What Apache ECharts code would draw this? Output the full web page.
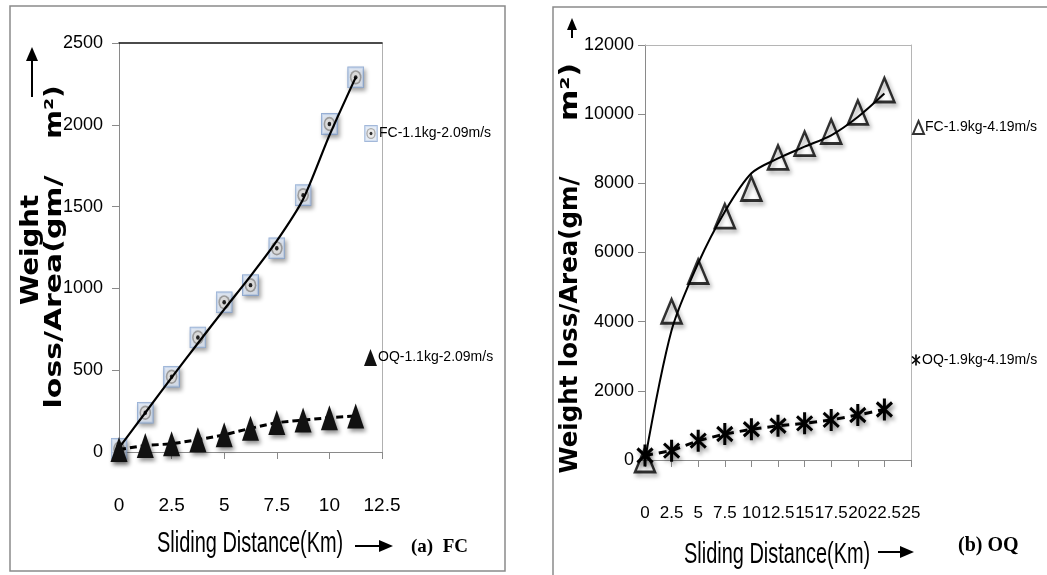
<!DOCTYPE html>
<html>
<head>
<meta charset="utf-8">
<script src="https://cdn.jsdelivr.net/npm/echarts@6/dist/echarts.min.js"></script>
<style>
	html, body { margin: 0; padding: 0; background: #fff; }
	#chart { width: 1047px; height: 575px; }
</style>
</head>
<body>
<div id="chart"></div>
<script>
// (a) FC panel
var leftXTicks = [0, 2.5, 5, 7.5, 10, 12.5];
var leftYTicks = [0, 500, 1000, 1500, 2000, 2500];
var leftX = [0, 1.25, 2.5, 3.75, 5, 6.25, 7.5, 8.75, 10, 11.25];
var leftFC = [20, 240, 460, 700, 915, 1020, 1245, 1570, 2005, 2290];
var leftFCTrend = [25, 240, 455, 665, 872, 1075, 1290, 1545, 1935, 2290];
var leftOQ = [15, 40, 50, 75, 105, 145, 180, 195, 210, 220];

// (b) OQ panel
var rightXTicks = [0, 2.5, 5, 7.5, 10, 12.5, 15, 17.5, 20, 22.5, 25];
var rightYTicks = [0, 2000, 4000, 6000, 8000, 10000, 12000];
var rightX = [0, 2.5, 5, 7.5, 10, 12.5, 15, 17.5, 20, 22.5];
var rightFC = [0, 4300, 5450, 7050, 7850, 8750, 9150, 9500, 10050, 10700];
var rightFCTrend = [0, 3750, 5690, 7180, 8290, 8720, 9060, 9390, 9920, 10600];
var rightOQ = [130, 270, 560, 750, 890, 990, 1060, 1160, 1300, 1460];

var LABEL_FONT = "'Liberation Sans', sans-serif";
var GREY = '#8a8a8a';

function pairs(xs, ys) {
	return xs.map(function (x, i) {
		return [x, ys[i]];
	});
}

function svgIcon(svg) {
	return 'image://data:image/svg+xml;charset=utf-8,' + encodeURIComponent(svg);
}

// square marker with grey ring and black dot
var targetIcon = svgIcon(
	"<svg xmlns='http://www.w3.org/2000/svg' width='16' height='20' viewBox='0 0 16 20' preserveAspectRatio='none'>" +
	"<rect x='0.5' y='0.5' width='15' height='19' fill='#bccfea' stroke='#7f9dcb'/>" +
	"<rect x='2' y='2' width='12' height='16' fill='#dfe8f5'/>" +
	"<ellipse cx='8' cy='10' rx='5.5' ry='6.5' fill='#959595'/>" +
	"<ellipse cx='8' cy='10' rx='4' ry='5' fill='#e6e6e6'/>" +
	"<ellipse cx='8' cy='10' rx='1.7' ry='2' fill='#000'/></svg>"
);
// asterisk marker
var starIcon = svgIcon(
	"<svg xmlns='http://www.w3.org/2000/svg' width='20' height='24' viewBox='0 0 20 24' preserveAspectRatio='none'>" +
	"<g stroke='#000' stroke-width='3.2'><line x1='10' y1='1' x2='10' y2='23'/>" +
	"<line x1='2' y1='5' x2='18' y2='19'/><line x1='2' y1='19' x2='18' y2='5'/></g></svg>"
);

var shadow = {
	shadowBlur: 4,
	shadowColor: 'rgba(0,0,0,0.45)',
	shadowOffsetX: 2,
	shadowOffsetY: 3
};

function plain(v) {
	return String(v);
}

function valueAxis(grid, ticks, fontSize, margin) {
	return {
		type: 'value',
		gridIndex: grid,
		min: ticks[0],
		max: ticks[ticks.length - 1],
		interval: ticks[1] - ticks[0],
		splitLine: { show: false },
		axisLine: { show: true, lineStyle: { color: GREY, width: 1 } },
		axisTick: { show: true, length: 7, lineStyle: { color: GREY } },
		axisLabel: {
			color: '#000',
			fontFamily: LABEL_FONT,
			fontSize: fontSize,
			margin: margin,
			showMinLabel: true,
			showMaxLabel: true,
			formatter: plain
		}
	};
}

function frameAxis(grid, ticks, position, color, width) {
	return {
		type: 'value',
		gridIndex: grid,
		position: position,
		min: ticks[0],
		max: ticks[ticks.length - 1],
		splitLine: { show: false },
		axisTick: { show: false },
		axisLabel: { show: false },
		axisLine: { show: true, onZero: false, lineStyle: { color: color, width: width } }
	};
}

function legendAt(left, top, item) {
	return {
		left: left,
		top: top,
		padding: 0,
		selectedMode: false,
		itemWidth: item.w,
		itemHeight: item.h,
		textStyle: { fontFamily: LABEL_FONT, fontSize: 14, color: '#000', padding: [0, 0, 0, -4] },
		data: [item.data]
	};
}

var myChart = echarts.init(document.getElementById('chart'));

var option = {
	backgroundColor: '#fff',
	animation: false,
	grid: [
		{ left: 119, top: 43, width: 263, height: 409 },
		{ left: 645, top: 45, width: 266, height: 415 }
	],
	xAxis: [
		valueAxis(0, leftXTicks, 19, 44),
		frameAxis(0, leftXTicks, 'top', '#111', 1.5),
		valueAxis(1, rightXTicks, 17, 45),
		frameAxis(1, rightXTicks, 'top', '#b5b5b5', 1)
	],
	yAxis: [
		valueAxis(0, leftYTicks, 18, 16),
		frameAxis(0, leftYTicks, 'right', '#b0b0b0', 1),
		valueAxis(1, rightYTicks, 18, 11),
		frameAxis(1, rightYTicks, 'right', '#b5b5b5', 1)
	],
	legend: [
		legendAt(364, 125, { w: 14, h: 17, data: { name: 'FC-1.1kg-2.09m/s', icon: targetIcon } }),
		legendAt(364, 349, { w: 13, h: 17, data: { name: 'OQ-1.1kg-2.09m/s', icon: 'triangle' } }),
		legendAt(912, 120, { w: 11, h: 13, data: { name: 'FC-1.9kg-4.19m/s', icon: 'triangle', itemStyle: { color: '#fff', borderColor: '#000', borderWidth: 2 } } }),
		legendAt(911, 353, { w: 10, h: 13, data: { name: 'OQ-1.9kg-4.19m/s', icon: starIcon } })
	],
	series: [
		{
			name: 'FC trend (a)',
			type: 'line',
			xAxisIndex: 0,
			yAxisIndex: 0,
			data: pairs(leftX, leftFCTrend),
			smooth: 0.25,
			showSymbol: false,
			lineStyle: { color: '#000', width: 2.2 },
			z: 3
		},
		{
			name: 'FC-1.1kg-2.09m/s',
			type: 'scatter',
			xAxisIndex: 0,
			yAxisIndex: 0,
			data: pairs(leftX, leftFC),
			symbol: targetIcon,
			symbolSize: [17, 22],
			itemStyle: Object.assign({ color: '#8aa6cf' }, shadow),
			z: 2
		},
		{
			name: 'OQ-1.1kg-2.09m/s',
			type: 'line',
			xAxisIndex: 0,
			yAxisIndex: 0,
			data: pairs(leftX, leftOQ),
			symbol: 'triangle',
			symbolSize: [17, 25],
			itemStyle: Object.assign({ color: '#111' }, shadow),
			lineStyle: { color: '#000', width: 3, type: [7, 4] },
			z: 4
		},
		{
			name: 'FC trend (b)',
			type: 'line',
			xAxisIndex: 2,
			yAxisIndex: 2,
			data: pairs(rightX, rightFCTrend),
			smooth: 0.3,
			showSymbol: false,
			lineStyle: { color: '#000', width: 2 },
			z: 3
		},
		{
			name: 'FC-1.9kg-4.19m/s',
			type: 'scatter',
			xAxisIndex: 2,
			yAxisIndex: 2,
			data: pairs(rightX, rightFC),
			symbol: 'triangle',
			symbolSize: [20, 24],
			itemStyle: Object.assign({ color: 'rgba(255,255,255,0)', borderColor: '#000', borderWidth: 2.6 }, shadow),
			z: 2
		},
		{
			name: 'OQ-1.9kg-4.19m/s',
			type: 'line',
			xAxisIndex: 2,
			yAxisIndex: 2,
			data: pairs(rightX, rightOQ),
			symbol: starIcon,
			symbolSize: [19, 24],
			itemStyle: Object.assign({ color: '#000' }, shadow),
			lineStyle: { color: '#000', width: 3, type: [8, 6] },
			z: 4
		}
	],
	graphic: [
		// panel frames
		{ type: 'rect', shape: { x: 10, y: 6, width: 495, height: 565 }, style: { fill: 'none', stroke: GREY, lineWidth: 1.5 }, silent: true },
		{ type: 'rect', shape: { x: 553, y: 7, width: 520, height: 600 }, style: { fill: 'none', stroke: GREY, lineWidth: 1.5 }, silent: true },
		// y titles
		{ type: 'text', x: 32, y: 250, rotation: Math.PI / 2, scaleX: 1.15, style: { text: 'Weight', font: 'bold 24px "DejaVu Sans"', fill: '#000', textAlign: 'center', textVerticalAlign: 'middle' } },
		{ type: 'text', x: 55, y: 292, rotation: Math.PI / 2, scaleX: 1.3, style: { text: 'loss/Area(gm/', font: 'bold 23px "DejaVu Sans"', fill: '#000', textAlign: 'center', textVerticalAlign: 'middle' } },
		{ type: 'text', x: 55, y: 112, rotation: Math.PI / 2, scaleX: 1.2, style: { text: 'm²)', font: 'bold 23px "DejaVu Sans"', fill: '#000', textAlign: 'center', textVerticalAlign: 'middle' } },
		{ type: 'text', x: 571, y: 325, rotation: Math.PI / 2, scaleX: 1.02, style: { text: 'Weight loss/Area(gm/', font: 'bold 24px "DejaVu Sans"', fill: '#000', textAlign: 'center', textVerticalAlign: 'middle' } },
		{ type: 'text', x: 571, y: 92, rotation: Math.PI / 2, scaleX: 1.25, style: { text: 'm²)', font: 'bold 24px "DejaVu Sans"', fill: '#000', textAlign: 'center', textVerticalAlign: 'middle' } },
		// y arrows
		{ type: 'line', shape: { x1: 32, y1: 97, x2: 32, y2: 58 }, style: { stroke: '#000', lineWidth: 2 } },
		{ type: 'polygon', shape: { points: [[26, 61], [32, 47], [38, 61]] }, style: { fill: '#000' } },
		{ type: 'line', shape: { x1: 572, y1: 38, x2: 572, y2: 27 }, style: { stroke: '#000', lineWidth: 2 } },
		{ type: 'polygon', shape: { points: [[567, 30], [572, 18], [577, 30]] }, style: { fill: '#000' } },
		// x titles
		{ type: 'text', x: 157, y: 544, scaleX: 0.665, style: { text: 'Sliding Distance(Km)', font: '30px "Liberation Sans"', fill: '#000', textAlign: 'left', textVerticalAlign: 'middle' } },
		{ type: 'line', shape: { x1: 355, y1: 546, x2: 382, y2: 546 }, style: { stroke: '#000', lineWidth: 2 } },
		{ type: 'polygon', shape: { points: [[379, 540], [393, 546], [379, 552]] }, style: { fill: '#000' } },
		{ type: 'text', x: 411, y: 547, style: { text: '(a)  FC', font: 'bold 19px "Liberation Serif"', fill: '#000', textAlign: 'left', textVerticalAlign: 'middle' } },
		{ type: 'text', x: 684, y: 555, scaleX: 0.665, style: { text: 'Sliding Distance(Km)', font: '30px "Liberation Sans"', fill: '#000', textAlign: 'left', textVerticalAlign: 'middle' } },
		{ type: 'line', shape: { x1: 878, y1: 552, x2: 903, y2: 552 }, style: { stroke: '#000', lineWidth: 2 } },
		{ type: 'polygon', shape: { points: [[900, 546], [914, 552], [900, 558]] }, style: { fill: '#000' } },
		{ type: 'text', x: 958, y: 546, style: { text: '(b) OQ', font: 'bold 20px "Liberation Serif"', fill: '#000', textAlign: 'left', textVerticalAlign: 'middle' } }
	]
};

myChart.setOption(option);
</script>
</body>
</html>
